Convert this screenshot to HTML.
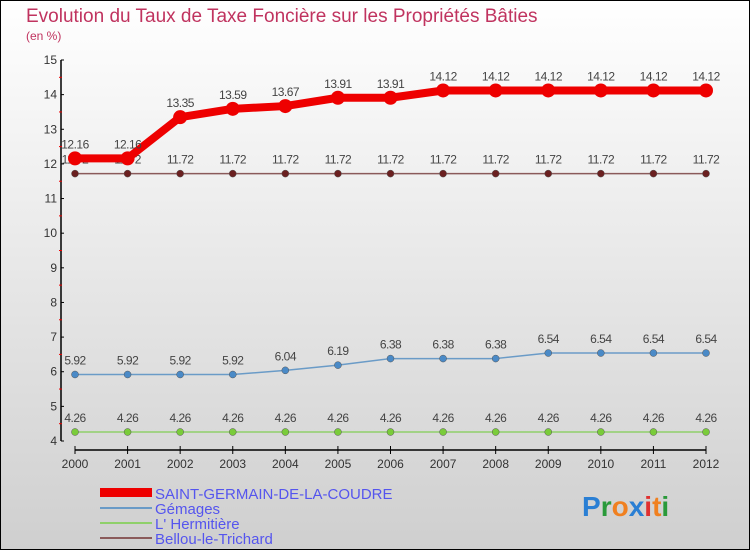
<!DOCTYPE html>
<html><head><meta charset="utf-8"><style>
body{margin:0;width:750px;height:550px;overflow:hidden;font-family:"Liberation Sans",sans-serif}
svg text{font-family:"Liberation Sans",sans-serif}
</style></head><body>
<svg id="c" width="750" height="550" xmlns="http://www.w3.org/2000/svg">
<defs><linearGradient id="bg" x1="0" y1="0" x2="0" y2="1"><stop offset="0" stop-color="#ffffff"/><stop offset="1" stop-color="#cfcfcf"/></linearGradient></defs>
<rect x="0.5" y="0.5" width="749" height="549" fill="url(#bg)" stroke="#000"/>
<text x="26" y="22" font-size="19" fill="#c0335f">Evolution du Taux de Taxe Foncière sur les Propriétés Bâties</text>
<text x="26" y="40" font-size="12" fill="#c0335f">(en %)</text>
<g id="axes"></g><g id="series"></g>
<g>
<rect x="100" y="488" width="52" height="9" fill="#e00"/>
<text x="155" y="499" font-size="15" fill="#5555ee">SAINT-GERMAIN-DE-LA-COUDRE</text>
<rect x="100" y="507" width="52" height="2" fill="#6a9bc7"/>
<text x="155" y="514" font-size="15" fill="#5555ee">Gémages</text>
<rect x="100" y="522" width="52" height="2" fill="#8fd06a"/>
<text x="155" y="529" font-size="15" fill="#5555ee">L' Hermitière</text>
<rect x="100" y="537" width="52" height="2" fill="#8a5a5a"/>
<text x="155" y="544" font-size="15" fill="#5555ee">Bellou-le-Trichard</text>
</g>
<text x="582" y="516" font-size="28" font-weight="bold"><tspan fill="#2a7fd4">P</tspan><tspan fill="#2a9a3a">r</tspan><tspan fill="#f08020">o</tspan><tspan fill="#2a7fd4">x</tspan><tspan fill="#e03030">i</tspan><tspan fill="#f08020">t</tspan><tspan fill="#2a9a3a">i</tspan></text>
</svg>
<script>
const years=[2000,2001,2002,2003,2004,2005,2006,2007,2008,2009,2010,2011,2012];
const yTicks=[4,5,6,7,8,9,10,11,12,13,14,15];
const sgc=[12.16,12.16,13.35,13.59,13.67,13.91,13.91,14.12,14.12,14.12,14.12,14.12,14.12];
const gem=[5.92,5.92,5.92,5.92,6.04,6.19,6.38,6.38,6.38,6.54,6.54,6.54,6.54];
const her=[4.26,4.26,4.26,4.26,4.26,4.26,4.26,4.26,4.26,4.26,4.26,4.26,4.26];
const bel=[11.72,11.72,11.72,11.72,11.72,11.72,11.72,11.72,11.72,11.72,11.72,11.72,11.72];
const NS="http://www.w3.org/2000/svg";
const X=i=>75+i*(706-75)/(years.length-1);
const Y=v=>441-(v-4)*(441-60)/11;
function mk(t,a,p){const e=document.createElementNS(NS,t);for(const k in a)e.setAttribute(k,a[k]);p.appendChild(e);return e;}
const ax=document.getElementById('axes'),sr=document.getElementById('series');
let e=mk('line',{x1:61,y1:60,x2:61,y2:441,stroke:'#000','stroke-width':1.5},ax);


e=mk('line',{x1:75,y1:450,x2:706,y2:450,stroke:'#000','stroke-width':1.5},ax);


yTicks.forEach(v=>{
 mk('line',{x1:61,y1:Y(v),x2:64,y2:Y(v),stroke:'#000'},ax);
 if(v<15)mk('line',{x1:59,y1:Y(v+0.5),x2:62,y2:Y(v+0.5),stroke:'#e00'},ax);
 const t=mk('text',{x:57,y:Y(v)+4,'font-size':12,'text-anchor':'end',fill:'#333'},ax);t.textContent=v;
 
 
});
years.forEach((y,i)=>{
 mk('line',{x1:X(i),y1:446,x2:X(i),y2:454,stroke:'#000'},ax);
 const t=mk('text',{x:X(i),y:468,'font-size':12,'text-anchor':'middle',fill:'#333'},ax);t.textContent=y;
 
 
});
function series(d,name,color,w,r,dot){
 const g=mk('g',{},sr);
 
 
 mk('polyline',{points:d.map((v,i)=>X(i)+','+Y(v)).join(' '),fill:'none',stroke:color,'stroke-width':w,'stroke-linejoin':'round'},g);
 d.forEach((v,i)=>{
  const c=mk('circle',{cx:X(i),cy:Y(v),r:r,fill:dot,stroke:dot==color?'none':'#555','stroke-width':0.5},g);
  
  
  const t=mk('text',{x:X(i),y:Y(v)-10,'font-size':12,'text-anchor':'middle',fill:'#444','letter-spacing':'-0.5'},g);t.textContent=v;
  
  
 });
}
series(bel,'bellou','#8a5a5a',1.5,3.5,'#6b2020');
series(her,'hermitiere','#8fd06a',1.5,3.5,'#7acc3a');
series(gem,'gemages','#6a9bc7',1.5,3.5,'#4a8ac7');
series(sgc,'saint-germain','#e00',8,7,'#e00');
</script>
</body></html>
